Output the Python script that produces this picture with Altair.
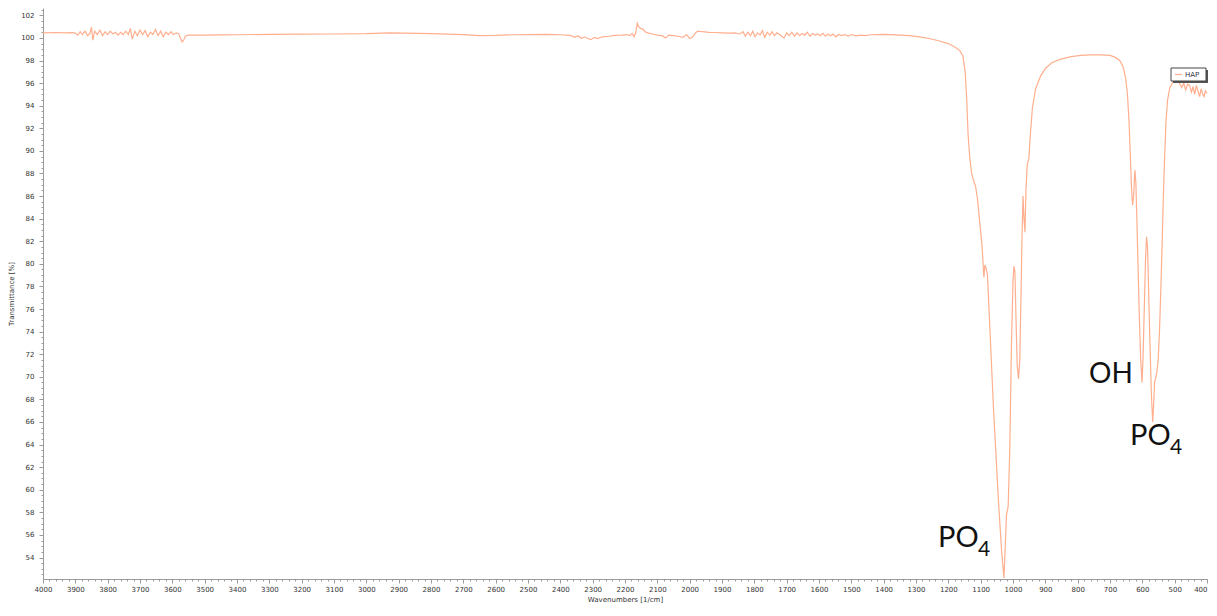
import altair as alt
import pandas as pd

# FTIR spectrum of HAP: wavenumber [1/cm] and transmittance [%]
wavenumber = [
    4000, 3960, 3930, 3910, 3900, 3892, 3885, 3878, 3870, 3862, 3855, 3850, 3846, 3840,
    3832, 3824, 3816, 3808, 3800, 3792, 3784, 3776, 3768, 3760, 3752, 3744, 3736, 3730,
    3724, 3716, 3708, 3700, 3692, 3684, 3676, 3668, 3660, 3652, 3644, 3636, 3628, 3620,
    3612, 3604, 3596, 3588, 3580, 3575, 3570, 3565, 3560, 3550, 3500, 3450, 3400, 3300,
    3200, 3100, 3000, 2930, 2880, 2800, 2700, 2650, 2600, 2550, 2500, 2440, 2400, 2370,
    2355, 2345, 2335, 2325, 2315, 2305, 2295, 2285, 2270, 2250, 2230, 2210, 2195, 2185,
    2178, 2172, 2167, 2162, 2158, 2152, 2145, 2138, 2130, 2115, 2100, 2085, 2075, 2065,
    2050, 2035, 2020, 2010, 2000, 1992, 1982, 1975, 1960, 1940, 1920, 1900, 1880, 1860,
    1845, 1835, 1828, 1820, 1812, 1805, 1798, 1790, 1782, 1775, 1768, 1760, 1752, 1745,
    1738, 1730, 1722, 1715, 1708, 1700, 1692, 1684, 1676, 1668, 1660, 1652, 1644, 1636,
    1628, 1620, 1612, 1604, 1596, 1588, 1580, 1572, 1564, 1556, 1548, 1540, 1530, 1520,
    1510, 1500, 1485, 1470, 1455, 1440, 1420, 1400, 1380, 1350, 1320, 1290, 1260, 1230,
    1200, 1180, 1165, 1155, 1148, 1143, 1139, 1134, 1128, 1120, 1116, 1110, 1104, 1096,
    1090, 1087, 1083, 1079, 1075, 1060, 1045, 1035, 1028, 1024, 1020, 1015, 1010, 1005,
    1000, 997, 994, 991, 987, 983, 979, 975, 972, 969, 966, 963, 960, 956,
    951, 947, 940, 930, 915, 900, 880, 855, 820, 790, 760, 730, 700, 685,
    670, 660, 652, 646, 641, 637, 633, 630, 627, 623, 620, 617, 613, 609,
    605, 601, 598, 594, 590, 587, 584, 580, 576, 572, 568, 565, 562, 558,
    555, 551, 547, 543, 539, 535, 531, 527, 522, 515, 505, 495, 485, 478,
    472, 466, 460, 454, 448, 443, 438, 433, 428, 423, 418, 413, 409, 405,
    400,
]
transmittance = [
    100.45, 100.48, 100.45, 100.47, 100.42, 100.25, 100.55, 100.3, 100.6, 100.2, 100.4, 100.95, 99.8, 100.6,
    100.3, 100.7, 100.2, 100.55, 100.3, 100.6, 100.35, 100.5, 100.25, 100.5, 100.3, 100.6, 100.3, 100.85,
    99.9, 100.6, 100.2, 100.7, 100.3, 100.65, 100.1, 100.5, 100.3, 100.75, 100.2, 100.6, 100.1, 100.5,
    100.3, 100.55, 100.3, 100.45, 100.35, 100.0, 99.65, 99.8, 100.15, 100.25, 100.25, 100.27, 100.28, 100.32,
    100.33, 100.35, 100.38, 100.45, 100.43, 100.38, 100.3, 100.2, 100.22, 100.28, 100.3, 100.32, 100.28, 100.22,
    100.05, 100.2, 99.95, 100.1, 99.95, 99.85, 100.05, 99.95, 100.1, 100.15, 100.22, 100.25, 100.3, 100.2,
    100.4, 100.1, 100.45, 101.3, 101.0, 100.85, 100.8, 100.55, 100.45, 100.35, 100.25, 100.2, 100.0, 100.25,
    100.2, 100.15, 100.05, 100.3, 99.95, 100.05, 100.45, 100.6, 100.55, 100.5, 100.48, 100.45, 100.42, 100.45,
    100.35, 100.55, 100.15, 100.5, 100.2, 100.6, 100.1, 100.45, 100.25, 100.65, 100.05, 100.5, 100.25, 100.55,
    100.2, 100.45, 100.3, 100.15, 100.0, 100.45, 100.2, 100.5, 100.15, 100.45, 100.2, 100.4, 100.25, 100.5,
    100.15, 100.4, 100.25, 100.35, 100.2, 100.4, 100.15, 100.35, 100.2, 100.35, 100.1, 100.3, 100.2, 100.3,
    100.15, 100.3, 100.18, 100.25, 100.2, 100.28, 100.3, 100.32, 100.3, 100.25, 100.2, 100.1, 99.95, 99.75,
    99.5, 99.2, 98.9, 98.4, 97.0, 94.5, 91.5, 89.5, 88.0, 87.2, 86.9, 85.8, 84.0, 81.7,
    78.8, 79.9, 79.6, 79.0, 76.5, 67.0, 59.0, 54.5, 52.2, 55.0, 57.8, 58.5, 63.5, 72.5,
    78.5, 79.8, 79.3, 75.5, 71.0, 69.8, 71.5, 77.5, 82.5, 86.0, 84.0, 82.8, 86.5, 88.8,
    89.3, 91.2, 93.8, 95.5, 96.6, 97.3, 97.8, 98.1, 98.35, 98.45, 98.5, 98.5, 98.45, 98.3,
    98.0, 97.5, 96.5, 95.0, 92.5, 89.5, 86.5, 85.2, 86.0, 88.3, 87.2, 84.0, 79.5, 75.0,
    71.5, 69.5, 71.5, 76.0, 80.5, 82.4, 81.5, 77.0, 72.5, 68.5, 66.0, 67.5, 69.5, 70.0,
    70.4, 71.5, 74.0, 77.5, 81.5, 86.0, 89.5, 92.5, 94.5, 95.6, 96.1, 96.3, 96.0, 95.6,
    96.0, 95.4, 95.9, 95.8, 95.2, 95.7, 95.0, 95.8, 95.3, 94.8, 95.5, 95.0, 94.8, 95.3,
    95.1,
]
series_name = "HAP"
annotations = ["PO", "4", "OH"]

df = pd.DataFrame({"wn": wavenumber, "T": transmittance})

LINE = "#FFAF8E"
AX = "#9a9a9a"
LBL = "#333333"
FONT = "DejaVu Sans"

xscale = alt.Scale(domain=[400, 4000], reverse=True, nice=False, zero=False)
yscale = alt.Scale(domain=[52.1, 102.65], nice=False, zero=False)

major_x = alt.Axis(
    orient="bottom", values=list(range(400, 4001, 100)), title="Wavenumbers [1/cm]",
    grid=False, tickSize=4, tickColor=AX, domainColor=AX, labelColor=LBL,
    labelFont=FONT, labelFontSize=7, labelPadding=2, labelFlush=False,
    labelAlign={"condition": {"test": "datum.value <= 400", "value": "right"}, "value": "center"},
    titleFont=FONT, titleFontSize=7, titleFontWeight="normal", titleColor=LBL,
    titlePadding=3, format="d",
)
minor_x = alt.Axis(
    orient="bottom", values=list(range(400, 4001, 20)), title=None, labels=False,
    domain=False, grid=False, tickSize=2, tickColor=AX,
)
major_y = alt.Axis(
    orient="left", values=list(range(54, 103, 2)), title="Transmittance [%]",
    grid=False, tickSize=4, tickColor=AX, domainColor=AX, labelColor=LBL,
    labelFont=FONT, labelFontSize=7, labelPadding=5,
    titleFont=FONT, titleFontSize=7, titleFontWeight="normal", titleColor=LBL,
    titlePadding=6, format="d",
)
minor_y = alt.Axis(
    orient="left", values=[52.5 + 0.5 * i for i in range(101)], title=None, labels=False,
    domain=False, grid=False, tickSize=2, tickColor=AX,
)

base = alt.Chart(df)
minor = base.mark_line(opacity=0).encode(
    x=alt.X("wn:Q", scale=xscale, axis=minor_x),
    y=alt.Y("T:Q", scale=yscale, axis=minor_y),
)
line = base.mark_line(color=LINE, strokeWidth=1.2).encode(
    x=alt.X("wn:Q", scale=xscale, axis=major_x),
    y=alt.Y("T:Q", scale=yscale, axis=major_y),
)

one = alt.Data(values=[{}])


def txt(s, x, y, size):
    return alt.Chart(one).mark_text(
        text=s, align="left", baseline="alphabetic", font="Lato", fontSize=size, color="#111111"
    ).encode(x=alt.value(x), y=alt.value(y))


po_main = txt(annotations[0], 895, 539, 29)
po_main_sub = txt(annotations[1], 935, 548, 21)
oh = txt(annotations[2], 1046, 375, 28)
po_right = txt(annotations[0], 1087, 437, 29)
po_right_sub = txt(annotations[1], 1127, 446, 21)

shadow = alt.Chart(one).mark_rect(color="#555555").encode(
    x=alt.value(1130), x2=alt.value(1165), y=alt.value(62), y2=alt.value(75)
)
box = alt.Chart(one).mark_rect(fill="white", stroke="#444444", strokeWidth=1).encode(
    x=alt.value(1128), x2=alt.value(1163), y=alt.value(60), y2=alt.value(73)
)
sym = alt.Chart(one).mark_rule(color=LINE, strokeWidth=1.2).encode(
    x=alt.value(1132), x2=alt.value(1139), y=alt.value(66.5)
)
leg_text = alt.Chart(one).mark_text(
    text=series_name, align="left", baseline="middle", font=FONT, fontSize=7, color="#333344"
).encode(x=alt.value(1142), y=alt.value(66.5))

chart = (
    alt.layer(minor, line, po_main, po_main_sub, oh, po_right, po_right_sub,
              shadow, box, sym, leg_text)
    .resolve_axis(x="independent", y="independent")
    .resolve_scale(x="shared", y="shared")
    .properties(
        width=1164, height=571,
        padding={"left": 35, "top": 0, "right": 2, "bottom": 29},
        autosize=alt.AutoSizeParams(type="none"),
        background="white",
    )
    .configure_view(stroke=None)
)

chart.save("out.html", embed_options={"renderer": "svg", "actions": False})
